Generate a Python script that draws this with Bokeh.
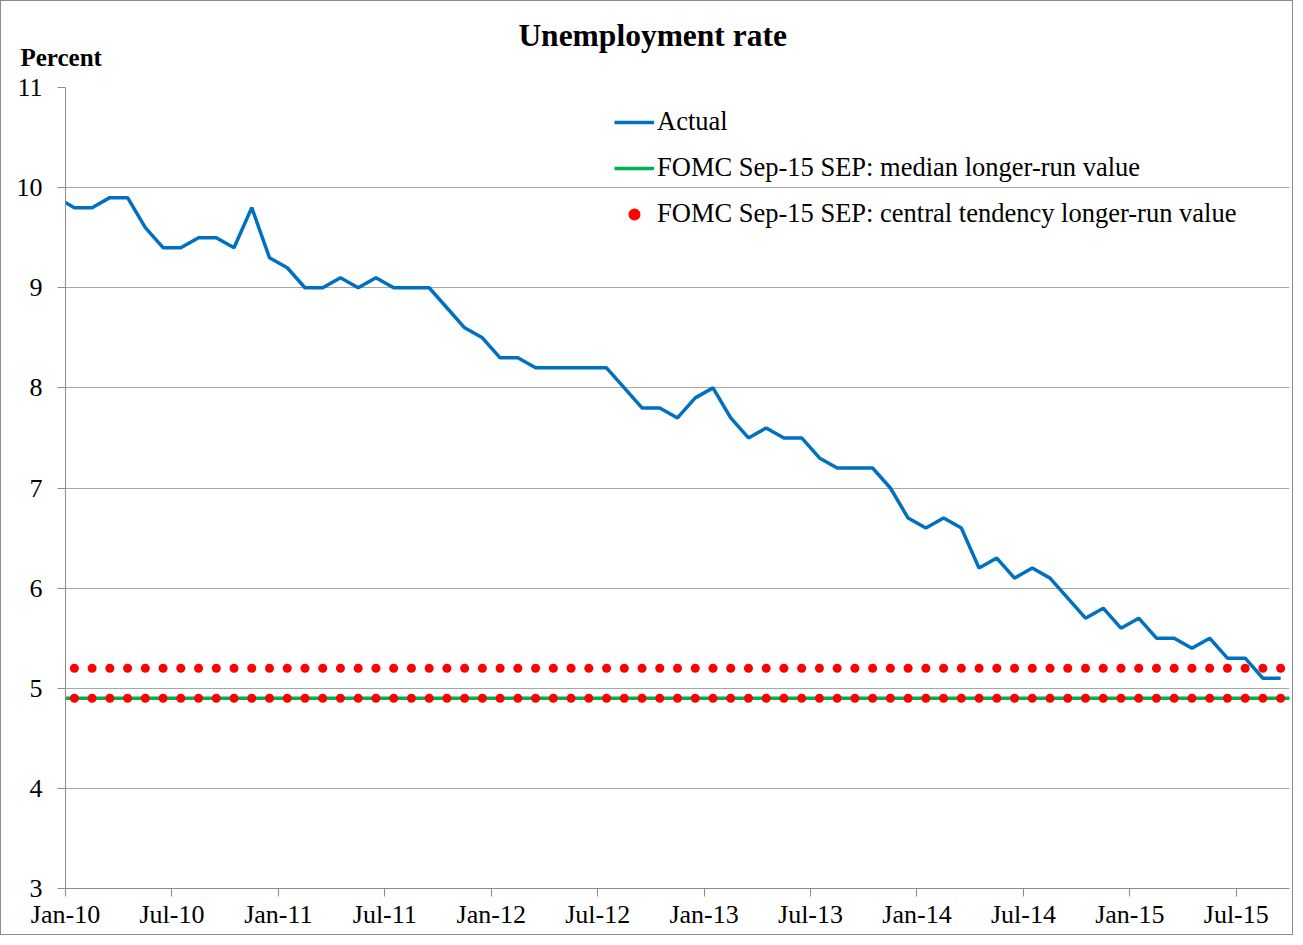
import pandas as pd
from bokeh.plotting import figure
from bokeh.models import Range1d, FixedTicker, Legend, LegendItem, Title, LinearAxis
from bokeh.embed import file_html
from bokeh.resources import INLINE

# ---------------- data ----------------
# Monthly unemployment rate, Dec-09 .. Sep-15 (Dec-09 only shows as the clipped start of the line)
actual_months = pd.date_range("2009-12-01", "2015-09-01", freq="MS")
actual = [9.9,
          9.8, 9.8, 9.9, 9.9, 9.6, 9.4, 9.4, 9.5, 9.5, 9.4, 9.8, 9.3,   # 2010
          9.2, 9.0, 9.0, 9.1, 9.0, 9.1, 9.0, 9.0, 9.0, 8.8, 8.6, 8.5,   # 2011
          8.3, 8.3, 8.2, 8.2, 8.2, 8.2, 8.2, 8.0, 7.8, 7.8, 7.7, 7.9,   # 2012
          8.0, 7.7, 7.5, 7.6, 7.5, 7.5, 7.3, 7.2, 7.2, 7.2, 7.0, 6.7,   # 2013
          6.6, 6.7, 6.6, 6.2, 6.3, 6.1, 6.2, 6.1, 5.9, 5.7, 5.8, 5.6,   # 2014
          5.7, 5.5, 5.5, 5.4, 5.5, 5.3, 5.3, 5.1, 5.1]                  # 2015

# Chart months (categories) Jan-10 .. Sep-15
months = pd.date_range("2010-01-01", "2015-09-01", freq="MS")
month_labels = [d.strftime("%b-%y") for d in months]

# FOMC Sep-15 SEP longer-run values
median_months = pd.date_range("2009-12-01", "2015-10-01", freq="MS")
median_value = 4.9
central_low = 4.9
central_high = 5.2

tick_labels = month_labels[::6]

title_text = "Unemployment rate"
unit_text = "Percent"

y_min, y_max = 3, 11

# ---------------- helpers ----------------
base = pd.Timestamp("2010-01-01")


def month_pos(dates):
    # centre of each month's category on a month-count axis
    return [(d.year - base.year) * 12 + (d.month - base.month) + 0.5 for d in dates]


FONT = "Liberation Serif"

p = figure(width=1293, height=935, output_backend="svg", toolbar_location=None,
           x_range=Range1d(0, len(months)), y_range=Range1d(y_min, y_max),
           min_border_left=64, min_border_right=5, min_border_top=86, min_border_bottom=48,
           background_fill_color="white", border_fill_color="white", title=None)
p.styles = {"border": "1px solid #8c8c8c"}
p.outline_line_color = None

# Series
r_actual = p.line(month_pos(actual_months), actual, line_color="#0070C0", line_width=3.5)
r_median = p.line(month_pos(median_months), [median_value] * len(median_months),
                  line_color="#00B050", line_width=3.5)
xs = month_pos(months)
r_ct = p.scatter(xs + xs, [central_high] * len(xs) + [central_low] * len(xs),
                 size=9, fill_color="#FF0000", line_color=None)

# Axes
p.xgrid.visible = False
p.ygrid.grid_line_color = "#A6A6A6"
p.ygrid.grid_line_width = 1

p.yaxis.ticker = FixedTicker(ticks=list(range(y_min, y_max + 1)))
p.yaxis.minor_tick_line_color = None
p.yaxis.major_tick_in = 0
p.yaxis.major_tick_out = 8
p.yaxis.axis_line_color = "#8c8c8c"
p.yaxis.major_tick_line_color = "#8c8c8c"
p.yaxis.major_label_text_font = FONT
p.yaxis.major_label_text_font_size = "26px"
p.yaxis.major_label_text_color = "black"
p.yaxis.major_label_standoff = 15

tick_pos = [months.get_loc(pd.Timestamp(d)) for d in months[::6]]
p.xaxis.ticker = FixedTicker(ticks=tick_pos)
p.xaxis.major_label_overrides = {t: lab for t, lab in zip(tick_pos, tick_labels)}
p.xaxis.minor_tick_line_color = None
p.xaxis.major_tick_in = 0
p.xaxis.major_tick_out = 8
p.xaxis.axis_line_color = "#8c8c8c"
p.xaxis.major_tick_line_color = "#8c8c8c"
p.xaxis.major_label_text_font = FONT
p.xaxis.major_label_text_font_size = "26px"
p.xaxis.major_label_text_color = "black"
p.xaxis.major_label_standoff = 3

# Unit label ("Percent") just above the frame, starting left of the y axis
unit_title = Title(text=unit_text, align="left", offset=-45, standoff=33,
                   text_font=FONT, text_font_size="25px", text_font_style="bold",
                   text_color="black")
p.add_layout(unit_title, "above")

# Chart title, drawn as the single label of a bare top axis so it sits centred over the chart
title_x = 33.1
title_axis = LinearAxis(ticker=FixedTicker(ticks=[title_x]),
                        major_label_overrides={title_x: title_text})
title_axis.axis_line_color = None
title_axis.major_tick_line_color = None
title_axis.minor_tick_line_color = None
title_axis.major_tick_in = 0
title_axis.major_tick_out = 0
title_axis.major_label_standoff = -27
title_axis.major_label_text_font = FONT
title_axis.major_label_text_font_size = "31.5px"
title_axis.major_label_text_font_style = "bold"
title_axis.major_label_text_color = "black"
p.add_layout(title_axis, "above")

# Legend
legend = Legend(items=[
    LegendItem(label="Actual", renderers=[r_actual]),
    LegendItem(label="FOMC Sep-15 SEP: median longer-run value", renderers=[r_median]),
    LegendItem(label="FOMC Sep-15 SEP: central tendency longer-run value", renderers=[r_ct]),
], location=(549, 659), orientation="vertical")
legend.background_fill_alpha = 0
legend.border_line_color = None
legend.padding = 0
legend.margin = 0
legend.spacing = 15
legend.glyph_width = 40
legend.glyph_height = 30
legend.label_height = 30
legend.label_standoff = 3
legend.label_text_font = FONT
legend.label_text_font_size = "26.5px"
legend.label_text_color = "black"
p.add_layout(legend)

open("out.html", "w").write(file_html(p, INLINE))
